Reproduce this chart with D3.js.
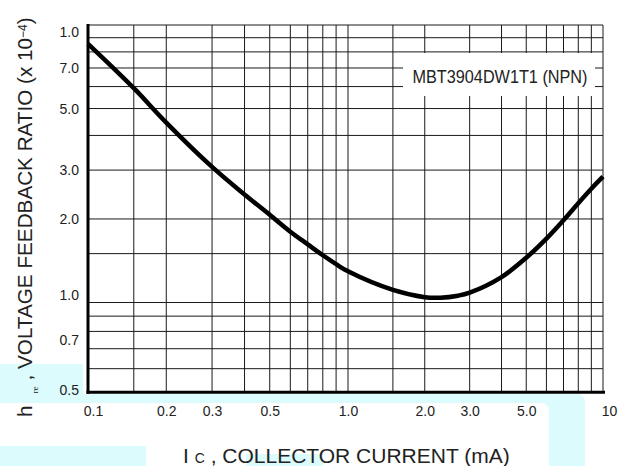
<!DOCTYPE html>
<meta charset="utf-8">
<style>
body { margin: 0; background: #fff; }
text { font-family: "Liberation Sans", Arial, sans-serif; fill: #222; }
.grid line { stroke: #1a1a1a; stroke-width: 1px; }
.line { fill: none; stroke: #000; stroke-width: 4.5px; }
.bg { fill: #dbfbfd; }
.tick text { font-size: 14px; }
</style>
<body>

<script src="https://cdn.jsdelivr.net/npm/d3@7/dist/d3.min.js"></script>
<script>

// Ic (mA) and hre (x 10^-4)
var current = [0.1, 0.15, 0.2, 0.3, 0.4, 0.5, 0.6, 0.7, 0.8, 0.9, 1.0, 1.5, 2.0, 2.3, 2.7, 3.0, 4.0, 5.0, 6.0, 7.0, 8.0, 9.0, 10];
var hre     = [8.55, 5.92, 4.45, 3.08, 2.45, 2.07, 1.80, 1.62, 1.48, 1.375, 1.295, 1.11, 1.045, 1.04, 1.058, 1.085, 1.235, 1.45, 1.70, 1.98, 2.28, 2.57, 2.84];

// grid lines of the log paper
var xGrid = [0.1, 0.15, 0.2, 0.3, 0.4, 0.5, 0.6, 0.7, 0.8, 0.9, 1, 1.5, 2, 3, 4, 5, 6, 7, 8, 9, 10];
var yGrid = [0.5, 0.6, 0.7, 0.8, 0.9, 1, 1.5, 2, 3, 4, 5, 6, 7, 8, 9, 10];

// tick labels (the top one really reads 1.0 on the sheet)
var xTicks = [0.1, 0.2, 0.3, 0.5, 1, 2, 3, 5, 10];
var xTickLabels = ["0.1", "0.2", "0.3", "0.5", "1.0", "2.0", "3.0", "5.0", "10"];
var yTicks = [0.5, 0.7, 1, 2, 3, 5, 7, 10];
var yTickLabels = ["0.5", "0.7", "1.0", "2.0", "3.0", "5.0", "7.0", "1.0"];

var width = 631, height = 466;

// the decades are not quite the same length on the sheet
var x = d3.scaleLog().domain([0.1, 1, 10]).range([88, 348, 603]);
var y = d3.scaleLog().domain([0.5, 1, 10]).range([392.3, 302.5, 25]);

var svg = d3.select("body").append("svg")
    .attr("width", width)
    .attr("height", height);

// cyan scan leftovers behind the bottom of the chart
svg.append("rect").attr("class", "bg").attr("x", -10).attr("y", 394).attr("width", 595).attr("height", 90).attr("rx", 8);
svg.append("rect").attr("x", -10).attr("y", 403).attr("width", 559).attr("height", 90).attr("rx", 8).attr("fill", "#fff");
svg.append("rect").attr("class", "bg").attr("x", 0).attr("y", 364).attr("width", 83).attr("height", 39);
svg.append("rect").attr("class", "bg").attr("x", 0).attr("y", 446).attr("width", 146).attr("height", 20);
svg.append("rect").attr("class", "bg").attr("x", 246).attr("y", 454).attr("width", 77).attr("height", 12);

// grid
var grid = svg.append("g").attr("class", "grid");
grid.selectAll(".v").data(xGrid).enter().append("line")
    .attr("class", "v")
    .attr("x1", function(d) { return x(d); })
    .attr("x2", function(d) { return x(d); })
    .attr("y1", y(10))
    .attr("y2", y(0.5));
grid.selectAll(".h").data(yGrid).enter().append("line")
    .attr("class", "h")
    .attr("x1", x(0.1))
    .attr("x2", x(10))
    .attr("y1", function(d) { return y(d); })
    .attr("y2", function(d) { return y(d); });

// white box for the part number
svg.append("rect")
    .attr("x", 403).attr("y", 53).attr("width", 192).attr("height", 43)
    .attr("fill", "#fff");
svg.append("text")
    .attr("x", 500).attr("y", 82.5)
    .attr("text-anchor", "middle")
    .attr("textLength", 175)
    .attr("lengthAdjust", "spacingAndGlyphs")
    .style("font-size", "18.5px")
    .text("MBT3904DW1T1 (NPN)");

// the curve
var valueline = d3.line()
    .x(function(d, i) { return x(current[i]); })
    .y(function(d) { return y(d); })
    .curve(d3.curveCatmullRom.alpha(0.5));

svg.append("path")
    .attr("class", "line")
    .attr("d", valueline(hre));

// heavy left and bottom axis lines
svg.append("line")
    .attr("x1", x(0.1)).attr("x2", x(0.1))
    .attr("y1", y(10) - 1).attr("y2", y(0.5) + 1.5)
    .attr("stroke", "#000").attr("stroke-width", 3);
svg.append("line")
    .attr("x1", x(0.1) - 1.5).attr("x2", x(10) + 2)
    .attr("y1", y(0.5)).attr("y2", y(0.5))
    .attr("stroke", "#000").attr("stroke-width", 3);

// tick labels
var yNudge = {10: 7.5, 1: -7, 0.7: -8.5, 0.5: -2};
var yAxis = d3.axisLeft(y)
    .tickValues(yTicks)
    .tickFormat(function(d, i) { return yTickLabels[i]; })
    .tickSize(0)
    .tickPadding(9);
var gy = svg.append("g")
    .attr("transform", "translate(" + x(0.1) + ",0)")
    .call(yAxis)
    .attr("font-family", null)
    .attr("font-size", null);
gy.select(".domain").remove();
gy.selectAll("text")
    .attr("fill", "#222")
    .attr("y", function(d) { return yNudge[d] || 0; });

var xNudge = {0.1: 5, 10: 6};
var xAxis = d3.axisBottom(x)
    .tickValues(xTicks)
    .tickFormat(function(d, i) { return xTickLabels[i]; })
    .tickSize(0)
    .tickPadding(13.5);
var gx = svg.append("g")
    .attr("transform", "translate(0," + y(0.5) + ")")
    .call(xAxis)
    .attr("font-family", null)
    .attr("font-size", null);
gx.select(".domain").remove();
gx.selectAll("text")
    .attr("fill", "#222")
    .attr("x", function(d) { return xNudge[d] || 0; });

// x title
var xt = svg.append("text")
    .attr("x", 183).attr("y", 463.3)
    .style("font-size", "21px");
xt.append("tspan").text("I ");
xt.append("tspan").style("font-size", "14px").text("C");
xt.append("tspan").text(" , COLLECTOR CURRENT (mA)");

// y title
var yt = svg.append("text")
    .attr("transform", "translate(32,417) rotate(-90)")
    .style("font-size", "20.7px");
yt.append("tspan").text("h");
yt.append("tspan").attr("dx", 12).attr("dy", 6)
    .style("font-size", "9px").style("font-family", "'Liberation Serif', serif").text("re");
yt.append("tspan").attr("dx", 6).attr("dy", -6).text(", VOLTAGE FEEDBACK RATIO (x 10");
yt.append("tspan").attr("dy", -5).style("font-size", "12px").text("\u22124");
yt.append("tspan").attr("dy", 5).text(")");

</script>
</body>
